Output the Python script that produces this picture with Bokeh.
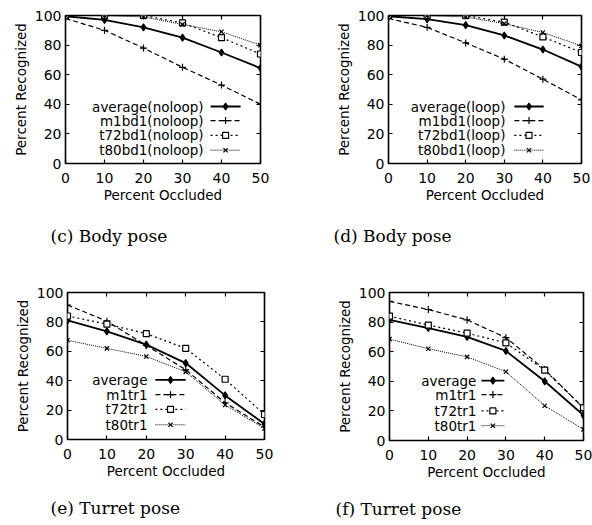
from bokeh.plotting import figure
from bokeh.layouts import row, column
from bokeh.models import FixedTicker, LinearAxis, Range1d, Title
from bokeh.core.properties import value
from bokeh.embed import file_html
from bokeh.resources import INLINE

# ---------------- data ----------------
occluded = [0, 10, 20, 30, 40, 50]
x_ticks = [0, 10, 20, 30, 40, 50]
y_ticks = [0, 20, 40, 60, 80, 100]

c_average = [99.5, 97, 92, 85, 75, 64.5]
c_m1bd1 = [98, 90, 78, 65, 53, 40]
c_t72bd1 = [100, 100, 100, 95, 85, 74]
c_t80bd1 = [100, 100, 99, 94, 89, 80]

d_average = [99.5, 97.5, 93.5, 86.5, 77, 65.5]
d_m1bd1 = [98, 92, 81.5, 70.5, 57, 43]
d_t72bd1 = [100, 100, 100, 95.5, 85.5, 75]
d_t80bd1 = [100, 100, 99, 94.5, 88.5, 79.5]

e_average = [81, 73.5, 64.5, 52, 30, 10.5]
e_m1tr1 = [91.5, 80.5, 64, 47.5, 25, 8.5]
e_t72tr1 = [84, 78.5, 72, 62, 41, 17]
e_t80tr1 = [67.5, 62, 56.5, 46, 23.5, 7.5]

f_average = [81.5, 76, 70, 60.5, 40, 17]
f_m1tr1 = [94, 88.5, 81.5, 69.5, 48, 22]
f_t72tr1 = [84, 78, 72.5, 66, 47.5, 22]
f_t80tr1 = [68.5, 62, 56.5, 46.5, 23.5, 7.5]

c_labels = ["average(noloop)", "m1bd1(noloop)", "t72bd1(noloop)", "t80bd1(noloop)"]
d_labels = ["average(loop)", "m1bd1(loop)", "t72bd1(loop)", "t80bd1(loop)"]
e_labels = ["average", "m1tr1", "t72tr1", "t80tr1"]
f_labels = ["average", "m1tr1", "t72tr1", "t80tr1"]

captions = ["(c) Body pose", "(d) Body pose", "(e) Turret pose", "(f) Turret pose"]
x_title = "Percent Occluded"
y_title = "Percent Recognized"

# ---------------- style ----------------
FONT = "DejaVu Sans"
SERIF = "DejaVu Serif"
TICK_FS = "14px"
LABEL_FS = "13.5px"
LEG_FS = "13.5px"

STYLES = [
    dict(dash="solid", width=1.8, marker="diamond", size=7, fill="black"),
    dict(dash="5 3", width=1.2, marker="cross", size=7, fill="black"),
    dict(dash="2 3", width=1.2, marker="square", size=6, fill="white"),
    dict(dash="1 1", width=1.0, marker="x", size=6, fill="black"),
]


def make_panel(series, labels, caption, geom, leg):
    bl, fw, br, bt, fh, bb, cap_off, cap_stand = geom
    p = figure(frame_width=fw, frame_height=fh,
               min_border_left=bl, min_border_right=br,
               min_border_top=bt, min_border_bottom=bb,
               x_range=Range1d(0, 50), y_range=Range1d(0, 100),
               output_backend="svg", toolbar_location=None,
               background_fill_color="white", border_fill_color="white")
    p.grid.visible = False
    p.outline_line_color = "black"
    p.outline_line_width = 1.6

    for ax in (p.xaxis[0], p.yaxis[0]):
        ax.axis_line_color = None
        ax.major_tick_in = 4
        ax.major_tick_out = 0
        ax.minor_tick_line_color = None
        ax.major_tick_line_width = 1.2
        ax.major_label_text_font = FONT
        ax.major_label_text_font_size = TICK_FS
        ax.major_label_text_color = "black"
        ax.axis_label_text_font = FONT
        ax.axis_label_text_font_size = LABEL_FS
        ax.axis_label_text_font_style = "normal"
        ax.axis_label_text_color = "black"
    p.xaxis[0].ticker = FixedTicker(ticks=x_ticks)
    p.yaxis[0].ticker = FixedTicker(ticks=y_ticks)
    p.xaxis[0].axis_label = x_title
    p.yaxis[0].axis_label = y_title
    p.xaxis[0].major_label_standoff = 9
    p.xaxis[0].axis_label_standoff = 1
    p.yaxis[0].major_label_standoff = 4
    p.yaxis[0].axis_label_standoff = 3

    # mirrored ticks on top / right (no labels)
    for side, tk in (("above", x_ticks), ("right", y_ticks)):
        a = LinearAxis(ticker=FixedTicker(ticks=tk), axis_line_color=None,
                       major_tick_in=4, major_tick_out=0, major_tick_line_width=1.2,
                       minor_tick_line_color=None,
                       major_label_overrides={t: "" for t in tk},
                       major_label_standoff=0)
        p.add_layout(a, side)

    for ys, st in zip(series, STYLES):
        p.line(occluded, ys, line_color="black", line_width=st["width"],
               line_dash=st["dash"])
        p.scatter(occluded, ys, marker=st["marker"], size=st["size"],
                  line_color="black", fill_color=st["fill"], line_width=1.2)

    # legend: text right-aligned, sample to its right
    tx, sx0, sx1, rows = leg
    for lab, ry, st in zip(labels, rows, STYLES):
        p.text(x=[tx], y=[ry], text=[lab], text_align="right",
               text_baseline="middle", text_font=value(FONT),
               text_font_size=LEG_FS, text_color="black")
        p.line([sx0, sx1], [ry, ry], line_color="black",
               line_width=st["width"], line_dash=st["dash"])
        p.scatter([(sx0 + sx1) / 2], [ry], marker=st["marker"], size=st["size"],
                  line_color="black", fill_color=st["fill"], line_width=1.2)

    p.add_layout(Title(text=caption, align="left", offset=cap_off,
                       text_font=SERIF, text_font_size="17px",
                       text_font_style="normal", text_color="black",
                       standoff=cap_stand), "below")
    return p


pc = make_panel([c_average, c_m1bd1, c_t72bd1, c_t80bd1], c_labels, captions[0],
                (65, 195, 36, 15, 148, 107, -15, 36),
                (35.4, 37.2, 44.9, [38.5, 29, 19, 9]))
pd_ = make_panel([d_average, d_m1bd1, d_t72bd1, d_t80bd1], d_labels, captions[1],
                 (92, 193, 11, 15, 148, 107, -55, 36),
                 (30.3, 32.6, 40.2, [38.5, 29, 19, 9]))
pe = make_panel([e_average, e_m1tr1, e_t72tr1, e_t80tr1], e_labels, captions[2],
                (67, 197, 32, 22, 147, 86, -17, 28),
                (20.3, 22.3, 30, [40.5, 30.5, 20.5, 10]))
pf = make_panel([f_average, f_m1tr1, f_t72tr1, f_t80tr1], f_labels, captions[3],
                (93, 194, 9, 21, 148, 86, -54, 28),
                (22.4, 23.7, 29.6, [40.5, 31, 20, 10]))

layout = column(row(pc, pd_), row(pe, pf))
open("out.html", "w").write(file_html(layout, INLINE))
